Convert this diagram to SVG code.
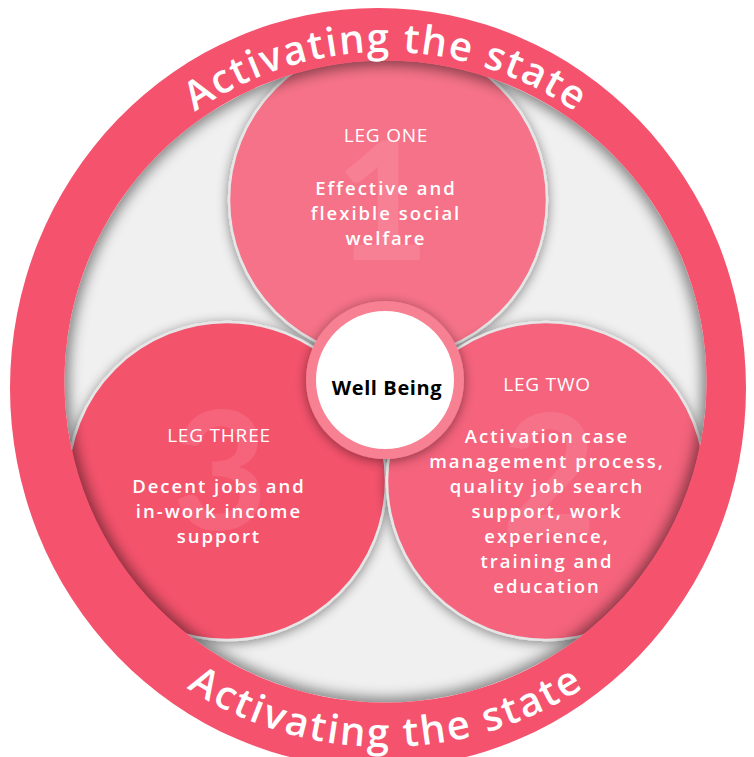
<svg xmlns="http://www.w3.org/2000/svg" width="754" height="757" viewBox="0 0 754 757">
<style>
.title{font-family:"Open Sans","Liberation Sans",sans-serif;font-size:19px;fill:#fff;text-anchor:middle;letter-spacing:0.8px}
.body{font-family:"Open Sans","Liberation Sans",sans-serif;font-size:18.5px;font-weight:600;fill:#fff;text-anchor:middle;letter-spacing:2px}
.num{font-family:"Lato","Liberation Sans",sans-serif;font-size:165px;font-weight:700;fill:#fff;fill-opacity:0.1;text-anchor:middle}
.arc{font-family:"Open Sans","Liberation Sans",sans-serif;font-size:40px;font-weight:600;fill:#fff;text-anchor:middle}
.leg{stroke:#e6e6e6;stroke-width:2.5}
</style>
<defs>
<filter id="ds" x="-20%" y="-20%" width="140%" height="140%">
<feDropShadow dx="0" dy="2" stdDeviation="6" flood-color="#000" flood-opacity="0.45"/>
</filter>
<filter id="blur" x="-10%" y="-10%" width="120%" height="120%">
<feGaussianBlur stdDeviation="7"/>
</filter>
<clipPath id="inner"><circle cx="385.5" cy="381.5" r="321"/></clipPath>
<path id="topArc" d="M 54,383 A 331 331 0 0 1 716,383"/>
<path id="botArc" d="M 22,384 A 363 363 0 0 0 748,384"/>
</defs>
<circle cx="385.5" cy="381.5" r="321" fill="#f0f0f0"/>
<g id="leg-one" filter="url(#ds)">
<circle class="leg" cx="388" cy="200" r="159" fill="#f67288"/>
</g>
<g id="leg-three" filter="url(#ds)">
<circle class="leg" cx="227" cy="481" r="159" fill="#f4526c"/>
</g>
<g id="leg-two" filter="url(#ds)">
<circle class="leg" cx="546" cy="481" r="159" fill="#f5637b"/>
</g>
<g id="numbers">
<text class="num" x="382" y="260">1</text>
<text class="num" x="549" y="533">2</text>
<text class="num" x="220" y="530">3</text>
</g>
<g id="leg-texts">
<text class="title" x="386" y="142">LEG ONE</text>
<text class="body" x="386" y="195">Effective and</text>
<text class="body" x="386" y="220">flexible social</text>
<text class="body" x="386" y="245">welfare</text>
<text class="title" x="219" y="442">LEG THREE</text>
<text class="body" x="219" y="493">Decent jobs and</text>
<text class="body" x="219" y="518">in-work income</text>
<text class="body" x="219" y="543">support</text>
<text class="title" x="547" y="391">LEG TWO</text>
<text class="body" x="547" y="443">Activation case</text>
<text class="body" x="547" y="468">management process,</text>
<text class="body" x="547" y="493">quality job search</text>
<text class="body" x="547" y="518">support, work</text>
<text class="body" x="547" y="543">experience,</text>
<text class="body" x="547" y="568">training and</text>
<text class="body" x="547" y="593">education</text>
</g>
<g id="well-being">
<circle cx="385" cy="380" r="79" fill="#f78092" filter="url(#ds)"/>
<circle cx="385" cy="380" r="69" fill="#fff"/>
<text x="387" y="395" font-family="Open Sans, Liberation Sans, sans-serif" font-size="20" font-weight="700" fill="#000" text-anchor="middle" letter-spacing="0.6">Well Being</text>
</g>
<g clip-path="url(#inner)">
<circle cx="385.5" cy="381.5" r="325" fill="none" stroke="#000" stroke-opacity="0.5" stroke-width="16" filter="url(#blur)"/>
</g>
<g id="ring">
<path fill="#f4526d" fill-rule="evenodd" d="M 10,388 A 368 380 0 1 0 746,388 A 368 380 0 1 0 10,388 Z M 64.5,381.5 A 321 321 0 1 0 706.5,381.5 A 321 321 0 1 0 64.5,381.5 Z"/>
<text class="arc"><textPath href="#topArc" startOffset="50%" textLength="405" lengthAdjust="spacing">Activating the state</textPath></text>
<text class="arc"><textPath href="#botArc" startOffset="50%" textLength="420" lengthAdjust="spacing">Activating the state</textPath></text>
</g>
</svg>
